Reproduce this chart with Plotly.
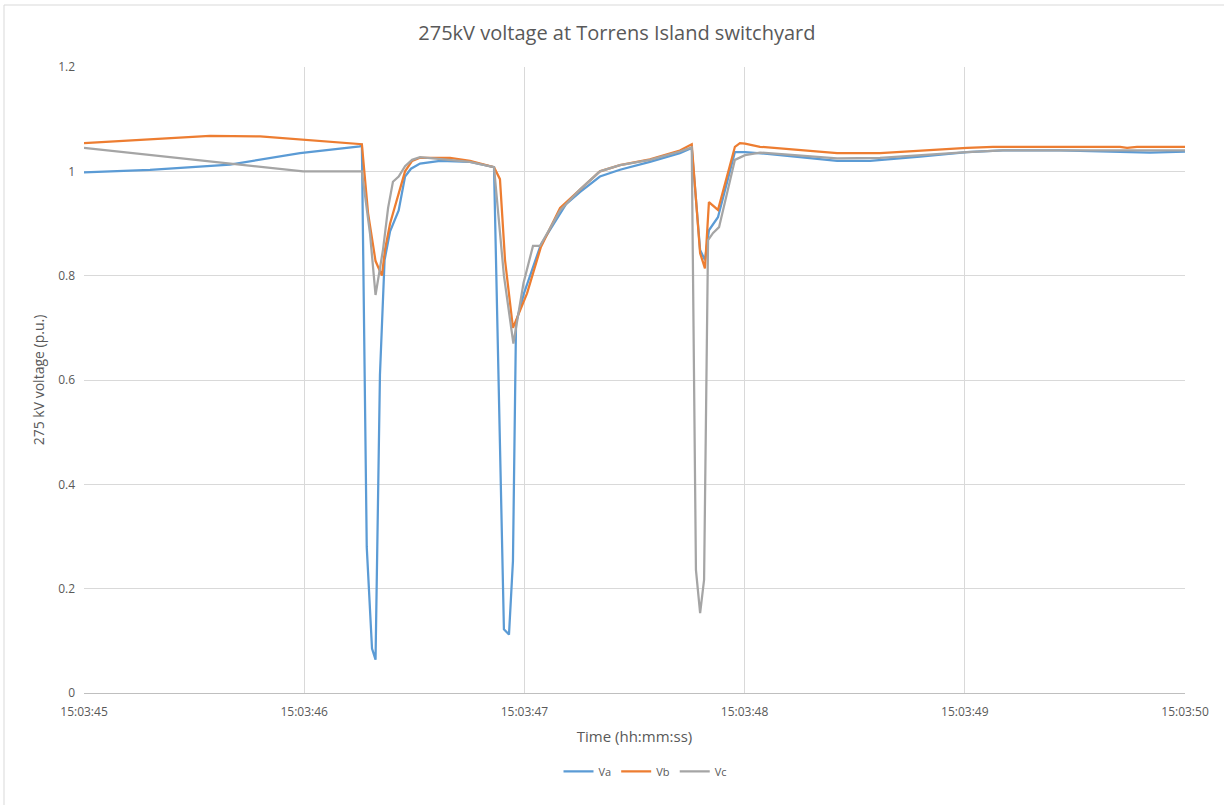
import pandas as pd
import plotly.graph_objects as go

BASE = "2016-09-28 15:03:45"

# seconds after 15:03:45 and per-unit voltage
t_a = [0.000, 0.300, 0.663, 0.981, 1.253, 1.262, 1.284, 1.308, 1.324, 1.344, 1.365, 1.390, 1.429, 1.458,
       1.485, 1.526, 1.617, 1.753, 1.862, 1.907, 1.930, 1.948, 1.962, 1.998, 2.075, 2.189, 2.252, 2.343,
       2.434, 2.570, 2.706, 2.760, 2.798, 2.820, 2.838, 2.879, 2.956, 3.002, 3.115, 3.420, 3.570, 3.797,
       4.010, 4.173, 4.432, 4.614, 4.841, 5.000]
v_a = [0.998, 1.003, 1.013, 1.035, 1.048, 1.050, 0.280, 0.085, 0.064, 0.610, 0.830, 0.885, 0.925, 0.990,
       1.005, 1.015, 1.020, 1.018, 1.008, 0.122, 0.112, 0.253, 0.710, 0.766, 0.860, 0.937, 0.960, 0.990,
       1.003, 1.018, 1.035, 1.045, 0.849, 0.830, 0.887, 0.912, 1.037, 1.037, 1.033, 1.020, 1.020, 1.028,
       1.037, 1.040, 1.040, 1.038, 1.036, 1.038]

t_b = [0.000, 0.300, 0.572, 0.800, 1.026, 1.253, 1.262, 1.290, 1.324, 1.353, 1.367, 1.390, 1.435, 1.458,
       1.490, 1.526, 1.662, 1.753, 1.862, 1.889, 1.912, 1.948, 2.012, 2.075, 2.162, 2.252, 2.343, 2.434,
       2.570, 2.706, 2.760, 2.798, 2.820, 2.838, 2.879, 2.956, 2.979, 3.002, 3.070, 3.420, 3.615, 4.010,
       4.128, 4.705, 4.737, 4.782, 5.000]
v_b = [1.054, 1.062, 1.068, 1.067, 1.060, 1.052, 1.052, 0.920, 0.828, 0.800, 0.850, 0.900, 0.965, 1.000,
       1.020, 1.026, 1.026, 1.020, 1.008, 0.985, 0.830, 0.700, 0.766, 0.855, 0.930, 0.965, 1.000, 1.012,
       1.023, 1.040, 1.052, 0.843, 0.814, 0.941, 0.926, 1.047, 1.054, 1.053, 1.047, 1.035, 1.035, 1.045,
       1.047, 1.047, 1.045, 1.047, 1.047]

t_c = [0.000, 0.995, 1.253, 1.262, 1.299, 1.324, 1.358, 1.381, 1.403, 1.429, 1.458, 1.490, 1.526, 1.662,
       1.753, 1.862, 1.907, 1.950, 1.996, 2.039, 2.071, 2.162, 2.252, 2.343, 2.434, 2.570, 2.706, 2.760,
       2.779, 2.798, 2.816, 2.834, 2.857, 2.884, 2.956, 3.002, 3.070, 3.420, 3.615, 4.010, 4.173, 5.000]
v_c = [1.045, 1.000, 1.000, 1.000, 0.880, 0.763, 0.850, 0.930, 0.980, 0.990, 1.010, 1.022, 1.027, 1.022,
       1.018, 1.008, 0.800, 0.670, 0.786, 0.857, 0.857, 0.925, 0.965, 1.000, 1.012, 1.022, 1.038, 1.046,
       0.236, 0.153, 0.217, 0.868, 0.882, 0.893, 1.022, 1.031, 1.036, 1.025, 1.026, 1.037, 1.040, 1.040]

series_names = ["Va", "Vb", "Vc"]
series_colors = ["#5B9BD5", "#ED7D31", "#A5A5A5"]

x_ticks_s = [0, 1, 2, 3, 4, 5]
x_tick_labels = ["15:03:45", "15:03:46", "15:03:47", "15:03:48", "15:03:49", "15:03:50"]
y_ticks = [0, 0.2, 0.4, 0.6, 0.8, 1.0, 1.2]
y_tick_labels = ["0", "0.2", "0.4", "0.6", "0.8", "1", "1.2"]

base = pd.Timestamp(BASE)


def to_time(ts):
    return [base + pd.Timedelta(seconds=s) for s in ts]


FONT = "Open Sans, Liberation Sans, sans-serif"
fig = go.Figure()
for name, color, ts, vs in zip(series_names, series_colors, [t_a, t_b, t_c], [v_a, v_b, v_c]):
    fig.add_trace(go.Scatter(x=to_time(ts), y=vs, name=name, mode="lines",
                             line=dict(color=color, width=2.25)))

fig.update_layout(
    width=1224, height=805,
    paper_bgcolor="white", plot_bgcolor="white",
    margin=dict(l=84, r=39, t=67, b=112),
    font=dict(family=FONT, color="#595959", size=11),
    title=dict(text="275kV voltage at Torrens Island switchyard", x=0.504, xanchor="center",
               y=0.959, yanchor="middle", font=dict(size=20, color="#595959", family=FONT)),
    legend=dict(orientation="h", x=0.51, xanchor="center", y=-0.125, yanchor="middle",
                font=dict(size=11, color="#595959"), itemwidth=30, tracegroupgap=0),
    showlegend=True,
)
fig.update_xaxes(
    type="date",
    range=[to_time([0])[0], to_time([5])[0]],
    tickvals=to_time(x_ticks_s), ticktext=x_tick_labels,
    showgrid=True, gridcolor="#D9D9D9", gridwidth=1,
    showline=True, linecolor="#BFBFBF", linewidth=1,
    ticks="", tickfont=dict(size=12, color="#595959"), ticklabelstandoff=8,
    title=dict(text="Time (hh:mm:ss)", font=dict(size=15, color="#595959"), standoff=12),
    zeroline=False,
)
fig.update_yaxes(
    range=[0, 1.2], tickvals=y_ticks, ticktext=y_tick_labels,
    showgrid=True, gridcolor="#D9D9D9", gridwidth=1,
    showline=False, ticks="", zeroline=False, ticklabelstandoff=8,
    tickfont=dict(size=12, color="#595959"),
    title=dict(text="275 kV voltage (p.u.)", font=dict(size=14, color="#595959"), standoff=10),
)
# chart-area border
fig.add_shape(type="rect", xref="paper", yref="paper",
              x0=(4 - 84) / 1101, x1=(1230 - 84) / 1101,
              y0=(693 - 810) / 626, y1=(693 - 5) / 626,
              line=dict(color="#D9D9D9", width=1), layer="below")

fig.write_html("out.html", config={"displayModeBar": False},
               post_script="document.body.style.margin='0';document.body.style.overflow='hidden';")
